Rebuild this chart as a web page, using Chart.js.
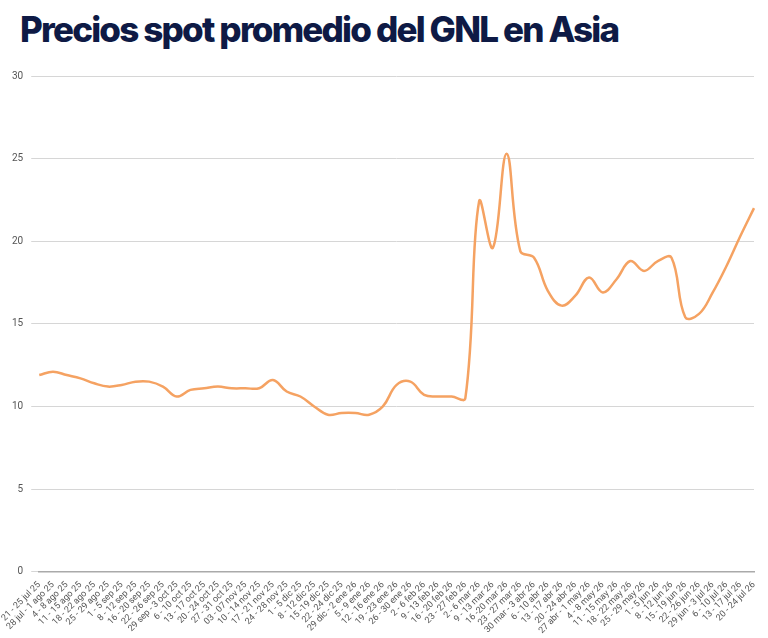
<!DOCTYPE html>
<html><head><meta charset="utf-8">
<script src="https://cdn.jsdelivr.net/npm/chart.js@4"></script>
<style>
body{margin:0;background:#fff;width:768px;height:638px;overflow:hidden}
h1{margin:0;position:absolute;left:20px;top:8px;font-family:Inter,sans-serif;font-weight:800;font-size:35px;letter-spacing:-1.8px;color:#0e1a45}
#w{position:absolute;left:0;top:62px;width:768px;height:576px}
</style></head><body>
<h1>Precios spot promedio del GNL en Asia</h1>
<div id="w"><canvas id="c"></canvas></div>
<script>
const categories=["21 - 25 jul 25","28 jul - 1 ago 25","4 - 8 ago 25","11 - 15 ago 25","18 - 22 ago 25","25 - 29 ago 25","1 - 5 sep 25","8 - 12 sep 25","16 - 20 sep 25","22 - 26 sep 25","29 sep - 3 oct 25","6 - 10 oct 25","13 - 17 oct 25","20 - 24 oct 25","27 - 31 oct 25","03 - 07 nov 25","10 - 14 nov 25","17 - 21 nov 25","24 - 28 nov 25","1 - 5 dic 25","8 - 12 dic 25","15 -19 dic 25","22 - 24 dic 25","29 dic - 2 ene 26","5 - 9 ene 26","12 - 16 ene 26","19 - 23 ene 26","26 - 30 ene 26","2 - 6 feb 26","9 - 13 feb 26","16 - 20 feb 26","23 - 27 feb 26","2 - 6 mar 26","9 - 13 mar 26","16 -20 mar 26","23 - 27 mar 26","30 mar - 3 abr 26","6 - 10 abr 26","13 - 17 abr 26","20 - 24 abr 26","27 abr - 1 may 26","4 - 8 may 26","11 - 15 may 26","18 - 22 may 26","25 - 29 may 26","1 - 5 jun 26","8 - 12 jun 26","15 - 19 jun 26","22 - 26 jun 26","29 jun - 3 jul 26","6 - 10 jul 26","13 - 17 jul 26","20 - 24 jul 26"];
const prices=[11.9,12.1,11.9,11.7,11.4,11.2,11.3,11.5,11.5,11.2,10.6,11.0,11.1,11.2,11.1,11.1,11.1,11.6,10.9,10.6,10.0,9.5,9.6,9.6,9.5,10.0,11.3,11.5,10.7,10.6,10.6,10.5,22.4,19.6,25.3,19.4,19.0,17.0,16.1,16.7,17.8,16.9,17.7,18.8,18.2,18.8,19.0,15.4,15.6,16.9,18.5,20.3,22.0];
const yTicks=[0,5,10,15,20,25,30];
new Chart(document.getElementById('c'),{type:'line',
data:{labels:categories,datasets:[{data:prices,borderColor:'#f5a262',borderWidth:2.5,pointRadius:0,tension:0.4,fill:false}]},
options:{responsive:true,maintainAspectRatio:false,animation:false,
layout:{padding:{left:4,right:14,top:4,bottom:2}},
plugins:{legend:{display:false},tooltip:{enabled:false}},
scales:{
x:{grid:{display:false},border:{color:'#aaa',width:1.5},ticks:{autoSkip:false,maxRotation:45,minRotation:45,color:'#555',font:{family:'Roboto',size:9},padding:0}},
y:{min:0,max:30,afterBuildTicks:a=>{a.ticks=yTicks.map(v=>({value:v}))},grid:{color:'#d6d6d6'},border:{display:false},ticks:{color:'#555',font:{family:'Roboto',size:10},padding:8}}
}}});
</script></body></html>
